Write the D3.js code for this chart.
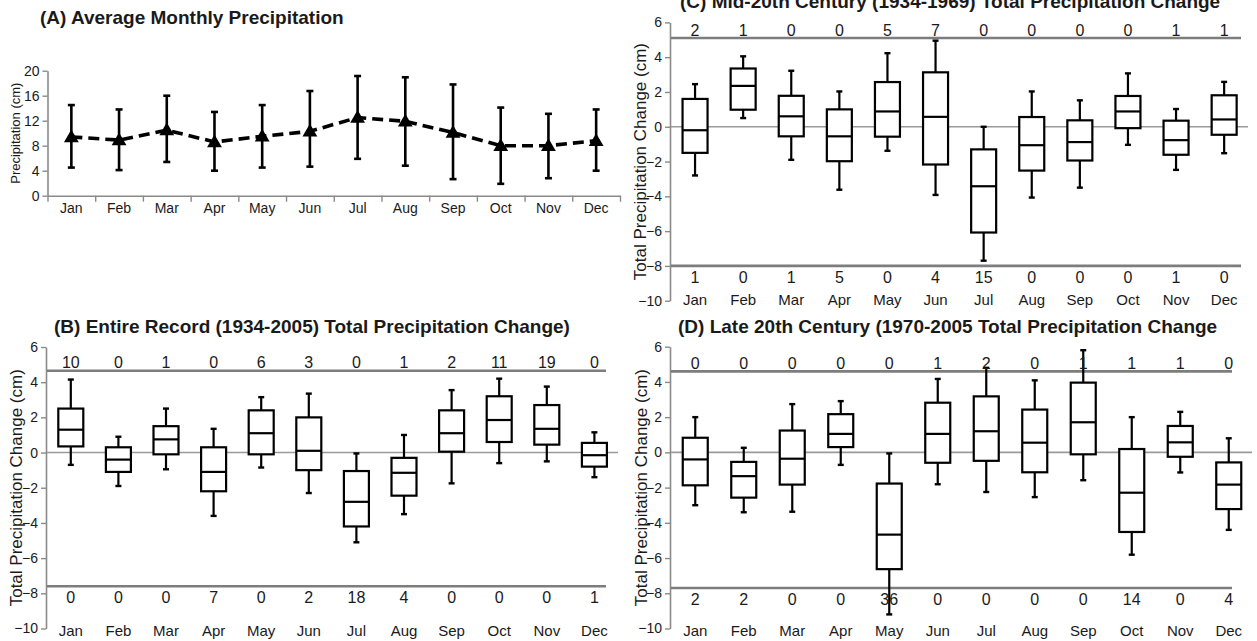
<!DOCTYPE html>
<html>
<head>
<meta charset="utf-8">
<script src="https://cdn.jsdelivr.net/npm/d3@7"></script>
<style>
  html, body { margin: 0; padding: 0; background: #fff; }
  svg { display: block; }
  text { font-family: "Liberation Sans", Arial, Helvetica, sans-serif; fill: #1a1a1a; }
</style>
</head>
<body>
<svg id="fig" width="1257" height="641"></svg>
<script>
// ---------- data ----------
const months = ["Jan", "Feb", "Mar", "Apr", "May", "Jun", "Jul", "Aug", "Sep", "Oct", "Nov", "Dec"];

// (A) average monthly precipitation (cm) with upper / lower range
const avgPrecip  = [9.4, 8.9, 10.5, 8.6, 9.5, 10.3, 12.5, 11.9, 10.1, 8.0, 8.0, 8.8];
const precipHigh = [14.5, 13.8, 16.0, 13.4, 14.5, 16.75, 19.15, 18.95, 17.8, 14.1, 13.1, 13.8];
const precipLow  = [4.5, 4.1, 5.4, 4.0, 4.5, 4.65, 5.9, 4.8, 2.65, 1.9, 2.8, 4.0];
const precipTicks = [0, 4, 8, 12, 16, 20];

// box summaries per month: [whisker low, Q1, median, Q3, whisker high]
const entireStats = [
  [-0.7, 0.35, 1.3, 2.5, 4.15], [-1.9, -1.1, -0.4, 0.3, 0.9], [-0.95, -0.1, 0.75, 1.5, 2.5],
  [-3.6, -2.2, -1.1, 0.3, 1.35], [-0.85, -0.1, 1.1, 2.4, 3.15], [-2.3, -1.0, 0.1, 2.0, 3.35],
  [-5.1, -4.2, -2.8, -1.05, -0.05], [-3.5, -2.45, -1.15, -0.3, 1.0], [-1.75, 0.05, 1.1, 2.4, 3.55],
  [-0.6, 0.6, 1.85, 3.2, 4.2], [-0.5, 0.45, 1.35, 2.7, 3.75], [-1.4, -0.8, -0.15, 0.55, 1.15]
];
const entireAbove = [10, 0, 1, 0, 6, 3, 0, 1, 2, 11, 19, 0];
const entireBelow = [0, 0, 0, 7, 0, 2, 18, 4, 0, 0, 0, 1];
const entireLimits = [4.65, -7.6];

const midStats = [
  [-2.8, -1.5, -0.2, 1.6, 2.45], [0.5, 0.98, 2.35, 3.35, 4.05], [-1.9, -0.55, 0.6, 1.78, 3.22],
  [-3.62, -1.98, -0.55, 1.0, 2.03], [-1.38, -0.57, 0.88, 2.57, 4.23], [-3.92, -2.17, 0.57, 3.13, 4.95],
  [-7.7, -6.08, -3.42, -1.3, 0.0], [-4.07, -2.52, -1.06, 0.56, 2.03], [-3.5, -1.94, -0.88, 0.37, 1.52],
  [-1.04, -0.08, 0.88, 1.77, 3.07], [-2.48, -1.61, -0.77, 0.35, 1.02], [-1.52, -0.46, 0.42, 1.81, 2.58]
];
const midAbove = [2, 1, 0, 0, 5, 7, 0, 0, 0, 0, 1, 1];
const midBelow = [1, 0, 1, 5, 0, 4, 15, 0, 0, 0, 1, 0];
const midLimits = [5.1, -8.0];

const lateStats = [
  [-3.0, -1.87, -0.4, 0.83, 2.0], [-3.4, -2.57, -1.35, -0.54, 0.26], [-3.37, -1.83, -0.36, 1.24, 2.74],
  [-0.71, 0.3, 1.05, 2.17, 2.91], [-9.2, -6.63, -4.67, -1.77, -0.06], [-1.81, -0.59, 1.05, 2.82, 4.17],
  [-2.25, -0.48, 1.2, 3.18, 4.8], [-2.54, -1.13, 0.55, 2.43, 4.09], [-1.58, -0.11, 1.71, 3.96, 5.8],
  [-5.81, -4.52, -2.29, 0.19, 2.0], [-1.14, -0.25, 0.57, 1.5, 2.3], [-4.4, -3.22, -1.83, -0.57, 0.8]
];
const lateAbove = [0, 0, 0, 0, 0, 1, 2, 0, 1, 1, 1, 0];
const lateBelow = [2, 2, 0, 0, 36, 0, 0, 0, 0, 14, 0, 4];
const lateLimits = [4.6, -7.7];

const changeTicks = [-10, -8, -6, -4, -2, 0, 2, 4, 6];

// ---------- drawing ----------
const svg = d3.select("#fig");
const AXIS_GREY = "#8a8a8a";
const LINE_GREY = "#7d7d7d";
const TITLE_SIZE = 19;

function styleAxis(g, fontSize) {
  g.select(".domain").attr("stroke", AXIS_GREY).attr("stroke-width", 1.6);
  g.selectAll(".tick line").attr("stroke", AXIS_GREY).attr("stroke-width", 1.4);
  g.selectAll(".tick text")
    .attr("font-family", "'Liberation Sans', Arial, sans-serif")
    .attr("font-size", fontSize)
    .attr("fill", "#333");
}

// (A) line chart with error bars
(function drawAverage() {
  const left = 47.5, right = 620, top = 70.7, base = 195.7;
  const x = d3.scaleBand().domain(months).range([left, right]);
  const edges = d3.scaleLinear().domain([0, months.length]).range([left, right]);
  const y = d3.scaleLinear().domain([0, 20]).range([base, top]);
  const g = svg.append("g");

  g.append("text").attr("x", 40).attr("y", 24)
    .attr("font-size", TITLE_SIZE).attr("font-weight", "bold").text("(A) Average Monthly Precipitation");

  const ya = g.append("g").attr("transform", `translate(${left},0)`)
    .call(d3.axisLeft(y).tickValues(precipTicks).tickSize(5).tickSizeOuter(0).tickPadding(3));
  styleAxis(ya, 14);

  const xa = g.append("g").attr("transform", `translate(0,${base})`)
    .call(d3.axisBottom(edges).tickValues(d3.range(months.length + 1)).tickSize(6).tickSizeOuter(0).tickFormat(""));
  styleAxis(xa, 14);

  g.selectAll(".mon").data(months).join("text")
    .attr("x", d => x(d) + x.bandwidth() / 2).attr("y", 213)
    .attr("text-anchor", "middle").attr("font-size", 14).text(d => d);

  g.append("text")
    .attr("transform", `translate(20,${(top + base) / 2}) rotate(-90)`)
    .attr("text-anchor", "middle").attr("font-size", 13).text("Precipitation (cm)");

  const cx = i => x(months[i]) + x.bandwidth() / 2;
  const idx = d3.range(months.length);

  // error bars
  g.selectAll(".err").data(idx).join("line")
    .attr("x1", cx).attr("x2", cx)
    .attr("y1", i => y(precipLow[i])).attr("y2", i => y(precipHigh[i]))
    .attr("stroke", "#000").attr("stroke-width", 2.6);
  [precipLow, precipHigh].forEach(arr => {
    g.selectAll(null).data(idx).join("line")
      .attr("x1", i => cx(i) - 3.5).attr("x2", i => cx(i) + 3.5)
      .attr("y1", i => y(arr[i])).attr("y2", i => y(arr[i]))
      .attr("stroke", "#000").attr("stroke-width", 2.6);
  });

  // dashed mean line
  g.append("path")
    .attr("d", d3.line().x(cx).y(i => y(avgPrecip[i]))(idx))
    .attr("fill", "none").attr("stroke", "#000").attr("stroke-width", 3.6)
    .attr("stroke-dasharray", "11,6");

  // triangle markers
  const tri = d3.symbol().type(d3.symbolTriangle).size(95);
  g.selectAll(".mk").data(idx).join("path")
    .attr("transform", i => `translate(${cx(i)},${y(avgPrecip[i]) + 1})`)
    .attr("d", tri()).attr("fill", "#000");
})();

// (B)-(D) box plots of precipitation change
function drawBoxPanel(cfg) {
  const { stats, above, below, limits, left, band, yTop, yBottom, title, titleX, titleY,
          labelX, limitEnd, zeroEnd, monthY } = cfg;
  const right = left + band * months.length;
  const x = d3.scaleBand().domain(months).range([left, right]);
  const y = d3.scaleLinear().domain([-10, 6]).range([yBottom, yTop]);
  const g = svg.append("g");
  const cx = i => x(months[i]) + x.bandwidth() / 2;
  const idx = d3.range(months.length);
  const bw = 25;

  g.append("text").attr("x", titleX).attr("y", titleY)
    .attr("font-size", TITLE_SIZE).attr("font-weight", "bold").text(title);

  const ya = g.append("g").attr("transform", `translate(${left - 1},0)`)
    .call(d3.axisLeft(y).tickValues(changeTicks).tickSize(5).tickSizeOuter(0).tickPadding(3));
  styleAxis(ya, 14);

  g.append("text")
    .attr("transform", `translate(${labelX},${(yTop + yBottom) / 2}) rotate(-90)`)
    .attr("text-anchor", "middle").attr("font-size", 17).text("Total Precipitation Change (cm)");

  // reference lines: zero and the two count limits
  g.append("line").attr("x1", left).attr("x2", zeroEnd).attr("y1", y(0)).attr("y2", y(0))
    .attr("stroke", "#9a9a9a").attr("stroke-width", 1.6);
  limits.forEach(v => {
    g.append("line").attr("x1", left).attr("x2", limitEnd).attr("y1", y(v)).attr("y2", y(v))
      .attr("stroke", LINE_GREY).attr("stroke-width", 2.6);
  });

  // whiskers
  g.selectAll(".wl").data(idx).join("line")
    .attr("x1", cx).attr("x2", cx)
    .attr("y1", i => y(stats[i][0])).attr("y2", i => y(stats[i][1]))
    .attr("stroke", "#000").attr("stroke-width", 2.2);
  g.selectAll(".wh").data(idx).join("line")
    .attr("x1", cx).attr("x2", cx)
    .attr("y1", i => y(stats[i][3])).attr("y2", i => y(stats[i][4]))
    .attr("stroke", "#000").attr("stroke-width", 2.2);
  [0, 4].forEach(k => {
    g.selectAll(null).data(idx).join("line")
      .attr("x1", i => cx(i) - 3).attr("x2", i => cx(i) + 3)
      .attr("y1", i => y(stats[i][k])).attr("y2", i => y(stats[i][k]))
      .attr("stroke", "#000").attr("stroke-width", 2.4);
  });

  // boxes and medians
  g.selectAll(".box").data(idx).join("rect")
    .attr("x", i => cx(i) - bw / 2).attr("width", bw)
    .attr("y", i => y(stats[i][3])).attr("height", i => y(stats[i][1]) - y(stats[i][3]))
    .attr("fill", "#fff").attr("stroke", "#000").attr("stroke-width", 2.2);
  g.selectAll(".med").data(idx).join("line")
    .attr("x1", i => cx(i) - bw / 2).attr("x2", i => cx(i) + bw / 2)
    .attr("y1", i => y(stats[i][2])).attr("y2", i => y(stats[i][2]))
    .attr("stroke", "#000").attr("stroke-width", 2.2);

  // counts beyond the limits
  g.selectAll(".ca").data(idx).join("text")
    .attr("x", cx).attr("y", y(limits[0]) - 2.5)
    .attr("text-anchor", "middle").attr("font-size", 16).text(i => above[i]);
  g.selectAll(".cb").data(idx).join("text")
    .attr("x", cx).attr("y", y(limits[1]) + 17)
    .attr("text-anchor", "middle").attr("font-size", 16).text(i => below[i]);

  // month labels
  g.selectAll(".mon").data(months).join("text")
    .attr("x", d => x(d) + x.bandwidth() / 2).attr("y", monthY)
    .attr("text-anchor", "middle").attr("font-size", 15).text(d => d);
}

drawBoxPanel({
  stats: entireStats, above: entireAbove, below: entireBelow, limits: entireLimits,
  left: 47, band: 47.6, yTop: 347, yBottom: 628.5,
  title: "(B) Entire Record (1934-2005) Total Precipitation Change)", titleX: 54, titleY: 333,
  labelX: 22, limitEnd: 606, zeroEnd: 618, monthY: 636
});
drawBoxPanel({
  stats: midStats, above: midAbove, below: midBelow, limits: midLimits,
  left: 671, band: 48.1, yTop: 22.4, yBottom: 300.7,
  title: "(C) Mid-20th Century (1934-1969) Total Precipitation Change", titleX: 680, titleY: 8,
  labelX: 646, limitEnd: 1241, zeroEnd: 1248, monthY: 305
});
drawBoxPanel({
  stats: lateStats, above: lateAbove, below: lateBelow, limits: lateLimits,
  left: 671, band: 48.5, yTop: 346.7, yBottom: 628.5,
  title: "(D) Late 20th Century (1970-2005 Total Precipitation Change", titleX: 678, titleY: 333,
  labelX: 647, limitEnd: 1232, zeroEnd: 1252, monthY: 636
});
</script>
</body>
</html>
